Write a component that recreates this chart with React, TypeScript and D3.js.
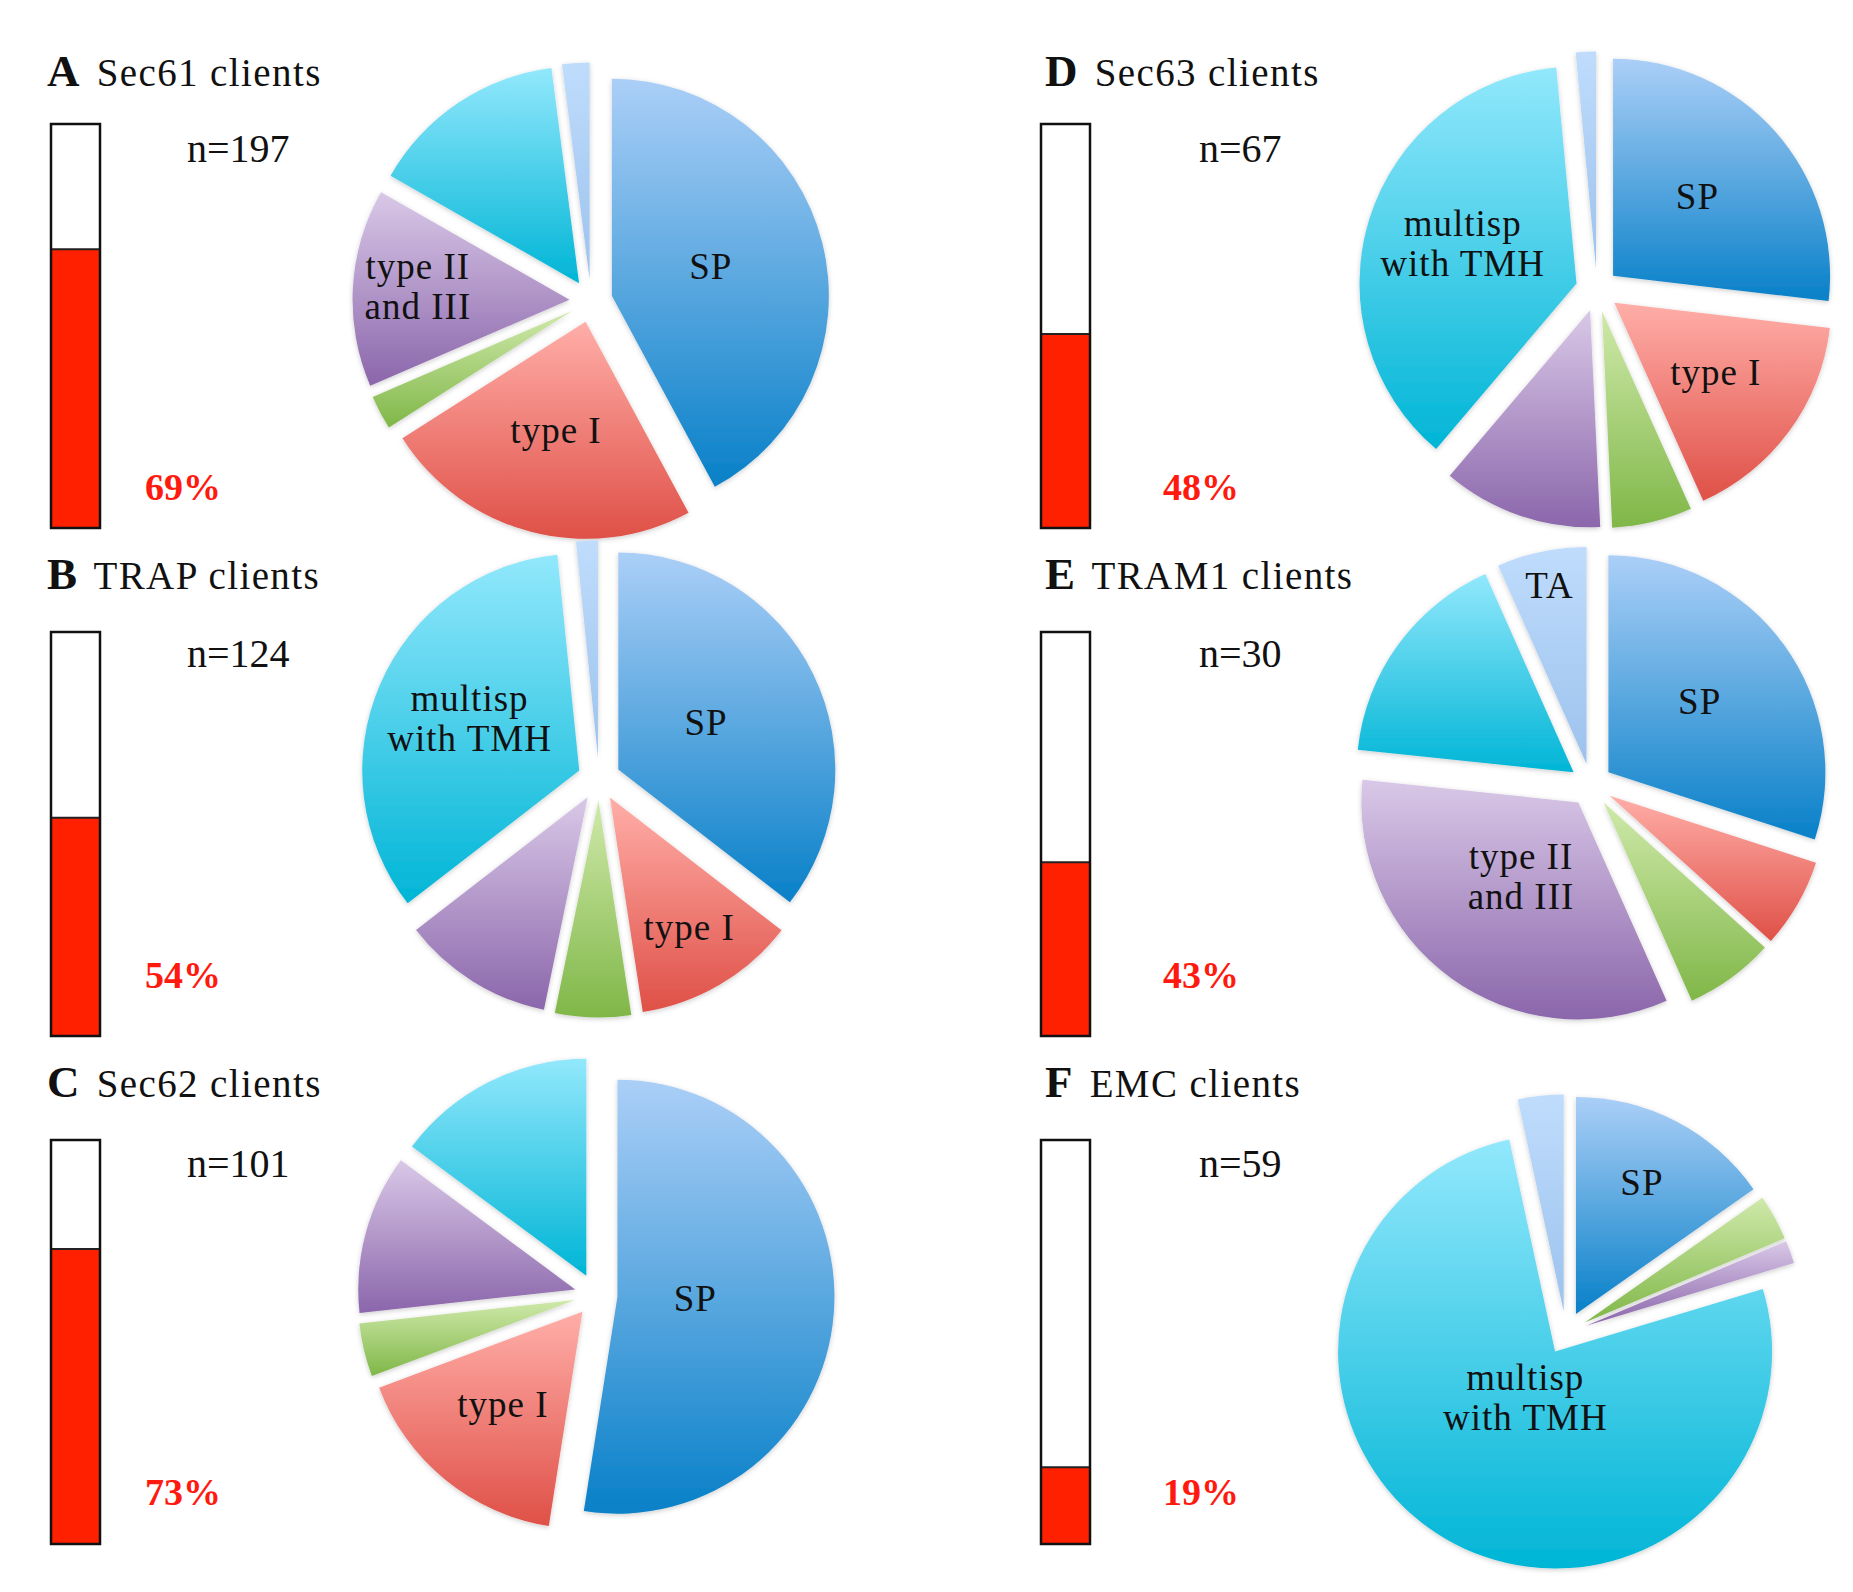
import React, { useEffect, useRef } from 'react'
import * as d3 from 'd3'

// ---- data ----
const panelIds = ['A', 'B', 'C', 'D', 'E', 'F']
const panelNames = ['Sec61 clients', 'TRAP clients', 'Sec62 clients', 'Sec63 clients', 'TRAM1 clients', 'EMC clients']
const clientCounts = [197, 124, 101, 67, 30, 59]
const redPercent = [69, 54, 73, 48, 43, 19]

const categories = ['SP', 'type I', 'other', 'type II and III', 'multisp with TMH', 'TA']
const spCounts = [83, 44, 53, 18, 9, 9]
const typeICounts = [47, 15, 17, 11, 2, 0]
const otherCounts = [5, 7, 4, 4, 2, 2]
const typeIIandIIICounts = [29, 14, 12, 8, 10, 1]
const multispCounts = [29, 42, 15, 25, 5, 45]
const taCounts = [4, 2, 0, 1, 2, 2]

const labelledSlices = [
  ['SP', 'type I', 'type II and III'],
  ['SP', 'type I', 'multisp with TMH'],
  ['SP', 'type I'],
  ['SP', 'type I', 'multisp with TMH'],
  ['SP', 'TA', 'type II and III'],
  ['SP', 'multisp with TMH'],
]

const labelLines: Record<string, string[]> = {
  SP: ['SP'],
  'type I': ['type I'],
  'type II and III': ['type II', 'and III'],
  'multisp with TMH': ['multisp', 'with TMH'],
  TA: ['TA'],
}

// ---- layout / style ----
const WIDTH = 1853
const HEIGHT = 1592
const RADIUS = 217
const EXPLODE = 21.5
const FONT = "'Liberation Serif', 'Times New Roman', serif"

const gradientStops: Record<string, [string, string]> = {
  SP: ['#abcff7', '#0880c8'],
  'type I': ['#ffaea8', '#df5047'],
  other: ['#cfe9aa', '#80b748'],
  'type II and III': ['#d9c8e7', '#8b66ab'],
  'multisp with TMH': ['#92e8fc', '#00b5d6'],
  TA: ['#bfdcfc', '#9cc2ed'],
}

// pie centres per panel
const pieCentres: [number, number][] = [
  [591, 301],
  [599, 779],
  [596, 1295],
  [1597, 290],
  [1591, 785],
  [1566, 1333],
]

// label distance (fraction of radius) per panel
const labelRadius: Record<string, number>[] = [
  { SP: 0.47, 'type I': 0.54, 'type II and III': 0.7 },
  { SP: 0.45, 'type I': 0.72, 'multisp with TMH': 0.55 },
  { SP: 0.36, 'type I': 0.58 },
  { SP: 0.52, 'type I': 0.58, 'multisp with TMH': 0.55 },
  { SP: 0.52, TA: 0.82, 'type II and III': 0.45 },
  { SP: 0.66, 'multisp with TMH': 0.27 },
]

const barX = [51, 1041]
const titleX = [47, 1045]
const nX = [187, 1199]
const pctX = [145, 1163]
const rowBarTop = [124, 632, 1140]
const rowTitleY = [86, 589, 1097]
const rowNY = [162, 667, 1177]
const rowPctY = [500, 988, 1505]
const BAR_W = 49
const BAR_H = 404

const seriesByCategory = [spCounts, typeICounts, otherCounts, typeIIandIIICounts, multispCounts, taCounts]

type Slice = { cat: string; idx: number; value: number }

const App: React.FC = () => {
  const svgRef = useRef<SVGSVGElement>(null)

  useEffect(() => {
    document.body.style.margin = '0'
    document.body.style.background = '#ffffff'
    if (!svgRef.current) return
    const svg = d3.select(svgRef.current)
    svg.selectAll('*').remove()

    const defs = svg.append('defs')
    categories.forEach((c, i) => {
      const g = defs
        .append('linearGradient')
        .attr('id', `grad-${i}`)
        .attr('x1', 0)
        .attr('y1', 0)
        .attr('x2', 0)
        .attr('y2', 1)
      g.append('stop').attr('offset', '0%').attr('stop-color', gradientStops[c][0])
      g.append('stop').attr('offset', '100%').attr('stop-color', gradientStops[c][1])
    })
    defs
      .append('filter')
      .attr('id', 'slice-shadow')
      .attr('x', '-20%')
      .attr('y', '-20%')
      .attr('width', '140%')
      .attr('height', '140%')
      .append('feDropShadow')
      .attr('dx', 0)
      .attr('dy', 1.5)
      .attr('stdDeviation', 2.5)
      .attr('flood-color', '#000')
      .attr('flood-opacity', 0.2)

    const pie = d3
      .pie<Slice>()
      .sort(null)
      .value(d => d.value)

    const arc = d3.arc<d3.PieArcDatum<Slice>>().innerRadius(0).outerRadius(RADIUS)

    panelIds.forEach((id, p) => {
      const col = p < 3 ? 0 : 1
      const row = p % 3

      // title
      const title = svg
        .append('text')
        .attr('x', titleX[col])
        .attr('y', rowTitleY[row])
        .style('font-family', FONT)
        .style('fill', '#111')
      title.append('tspan').style('font-weight', 'bold').style('font-size', '45px').text(id)
      title
        .append('tspan')
        .attr('dx', 6)
        .style('font-size', '39px')
        .style('letter-spacing', '1.4px')
        .text(' ' + panelNames[p])

      // thermometer bar
      const bx = barX[col]
      const top = rowBarTop[row]
      const y = d3.scaleLinear().domain([0, 100]).range([top + BAR_H, top])
      svg
        .append('rect')
        .attr('x', bx)
        .attr('y', top)
        .attr('width', BAR_W)
        .attr('height', BAR_H)
        .attr('fill', '#fff')
      svg
        .append('rect')
        .attr('x', bx)
        .attr('y', y(redPercent[p]))
        .attr('width', BAR_W)
        .attr('height', y(0) - y(redPercent[p]))
        .attr('fill', '#ff2000')
      svg
        .append('line')
        .attr('x1', bx)
        .attr('x2', bx + BAR_W)
        .attr('y1', y(redPercent[p]))
        .attr('y2', y(redPercent[p]))
        .attr('stroke', '#222')
        .attr('stroke-width', 2)
      svg
        .append('rect')
        .attr('x', bx)
        .attr('y', top)
        .attr('width', BAR_W)
        .attr('height', BAR_H)
        .attr('fill', 'none')
        .attr('stroke', '#111')
        .attr('stroke-width', 2.5)

      svg
        .append('text')
        .attr('x', nX[col])
        .attr('y', rowNY[row])
        .style('font-family', FONT)
        .style('font-size', '40px')
        .style('fill', '#111')
        .text(`n=${clientCounts[p]}`)

      svg
        .append('text')
        .attr('x', pctX[col])
        .attr('y', rowPctY[row])
        .style('font-family', FONT)
        .style('font-size', '38px')
        .style('font-weight', 'bold')
        .style('fill', '#ff1a10')
        .text(`${redPercent[p]}%`)

      // exploded pie
      const [cx, cy] = pieCentres[p]
      const slices = pie(categories.map((cat, idx) => ({ cat, idx, value: seriesByCategory[idx][p] }))).filter(
        d => d.data.value > 0,
      )
      const g = svg.append('g').attr('transform', `translate(${cx},${cy})`)
      const offset = (d: d3.PieArcDatum<Slice>, r: number) => {
        const mid = (d.startAngle + d.endAngle) / 2
        return [Math.sin(mid) * r, -Math.cos(mid) * r]
      }
      g.selectAll('path')
        .data(slices)
        .enter()
        .append('path')
        .attr('d', arc)
        .attr('transform', d => {
          const [ox, oy] = offset(d, EXPLODE)
          return `translate(${ox},${oy})`
        })
        .attr('fill', d => `url(#grad-${d.data.idx})`)
        .attr('filter', 'url(#slice-shadow)')

      slices
        .filter(d => labelledSlices[p].includes(d.data.cat))
        .forEach(d => {
          const k = labelRadius[p][d.data.cat] ?? 0.55
          const [ox, oy] = offset(d, EXPLODE + k * RADIUS)
          const lines = labelLines[d.data.cat]
          const lh = 40
          const t = g
            .append('text')
            .attr('text-anchor', 'middle')
            .style('font-family', FONT)
            .style('font-size', '37px')
            .style('letter-spacing', '1px')
            .style('fill', '#111')
          lines.forEach((ln, i) => {
            t.append('tspan')
              .attr('x', ox)
              .attr('y', oy - ((lines.length - 1) * lh) / 2 + i * lh + 8)
              .text(ln)
          })
        })
    })
  }, [])

  return <svg ref={svgRef} width={WIDTH} height={HEIGHT} style={{ display: 'block', background: '#fff' }} />
}

export default App
